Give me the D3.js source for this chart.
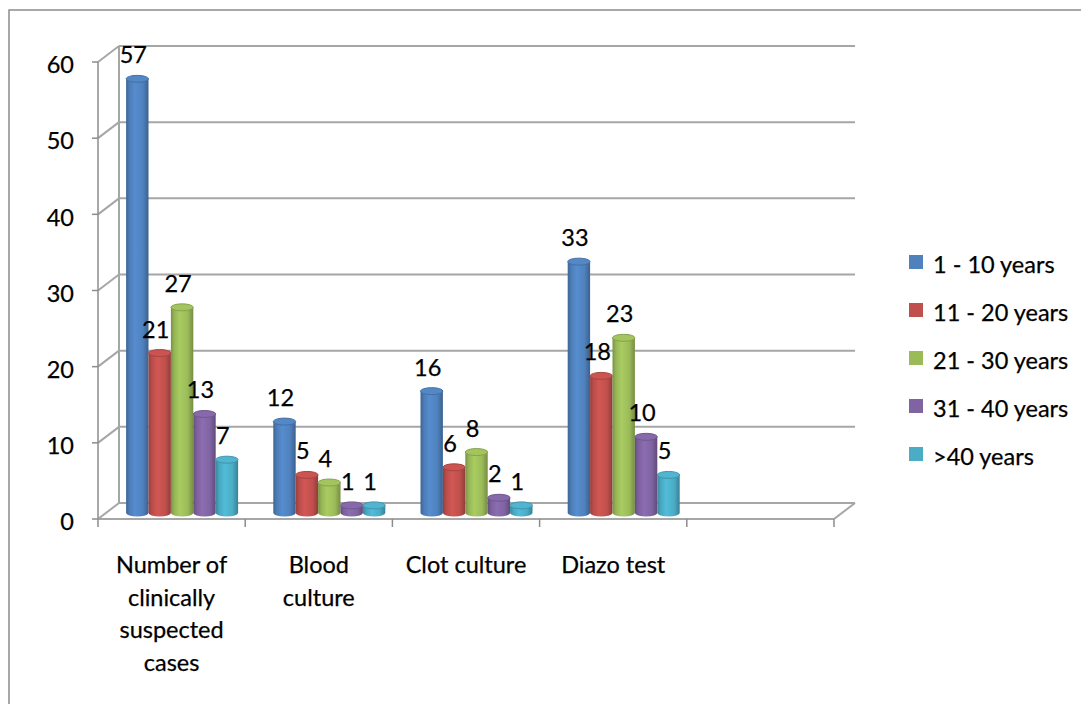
<!DOCTYPE html>
<html>
<head>
<meta charset="utf-8">
<script src="https://cdn.jsdelivr.net/npm/d3@7"></script>
<style>
  html, body { margin: 0; padding: 0; background: #fff; }
  svg { display: block; }
  text { font-family: Lato, "Open Sans", sans-serif; fill: #000; stroke: #000; stroke-width: 0.25px; }
</style>
</head>
<body>
<svg id="chart" width="1081" height="704"></svg>
<script>
// ---- Data ----
const categories = ["Number of\nclinically\nsuspected\ncases", "Blood\nculture", "Clot culture", "Diazo test", ""];
const seriesNames = ["1 - 10 years", "11 - 20 years", "21 - 30 years", "31 - 40 years", ">40 years"];
const age1to10   = [57, 12, 16, 33, null];
const age11to20  = [21, 5, 6, 18, null];
const age21to30  = [27, 4, 8, 23, null];
const age31to40  = [13, 1, 2, 10, null];
const ageOver40  = [7, 1, 1, 5, null];
const yTicks = [0, 10, 20, 30, 40, 50, 60];
const colors = ["#4F81BD", "#C0504D", "#9BBB59", "#8064A2", "#4BACC6"];

const seriesValues = [age1to10, age11to20, age21to30, age31to40, ageOver40];

// ---- Layout ----
const svg = d3.select("#chart");
const x0 = 98, x1 = 834, yBase = 519, yTop = 62;
const dx = 21, dy = -16;          // depth offset of back wall
const FONT = 23.5;

const x = d3.scaleBand().domain(d3.range(categories.length)).range([x0, x1]).padding(0);
const y = d3.scaleLinear().domain([0, 60]).range([yBase, yTop]);
const xs = d3.scaleBand().domain(d3.range(seriesNames.length)).range([-56, 56]).padding(0);

// outer border
svg.append("path").attr("d", "M9,704 L9,10 L1081,10")
  .attr("fill", "none").attr("stroke", "#8c8c8c").attr("stroke-width", 1.5);

const grid = svg.append("g").attr("fill", "none").attr("stroke", "#a6a6a6").attr("stroke-width", 2);

// back wall gridlines + left wall diagonals
yTicks.forEach(t => {
  grid.append("line").attr("x1", x0 + dx).attr("x2", x1 + dx)
    .attr("y1", y(t) + dy).attr("y2", y(t) + dy);
  grid.append("line").attr("x1", x0).attr("y1", y(t)).attr("x2", x0 + dx).attr("y2", y(t) + dy);
});
// back wall left edge
grid.append("line").attr("x1", x0 + dx).attr("x2", x0 + dx).attr("y1", y(0) + dy).attr("y2", y(60) + dy);
// floor front edge & right diagonal
grid.append("line").attr("x1", x0).attr("x2", x1).attr("y1", y(0)).attr("y2", y(0));
grid.append("line").attr("x1", x1).attr("y1", y(0)).attr("x2", x1 + dx).attr("y2", y(0) + dy);

// front vertical axis
const axisG = svg.append("g").attr("stroke", "#8c8c8c").attr("stroke-width", 1.5).attr("fill", "none");
axisG.append("line").attr("x1", x0).attr("x2", x0).attr("y1", y(0)).attr("y2", y(60));
yTicks.forEach(t => {
  axisG.append("line").attr("x1", x0 - 6).attr("x2", x0).attr("y1", y(t)).attr("y2", y(t));
});
// category ticks
d3.range(categories.length + 1).forEach(i => {
  const xx = i < categories.length ? x(i) : x1;
  axisG.append("line").attr("x1", xx).attr("x2", xx).attr("y1", y(0)).attr("y2", y(0) + 8);
});

// y tick labels
svg.append("g").selectAll("text").data(yTicks).join("text")
  .attr("x", 74).attr("y", d => y(d) + 3).attr("dy", "0.35em")
  .attr("text-anchor", "end").attr("font-size", FONT).text(d => d);

// category labels
const catG = svg.append("g");
categories.forEach((c, i) => {
  if (!c) return;
  const t = catG.append("text").attr("text-anchor", "middle").attr("font-size", FONT);
  c.split("\n").forEach((line, j) => {
    t.append("tspan").attr("x", x(i) + x.bandwidth() / 2).attr("y", 573 + j * 32.7).text(line);
  });
});

// gradients for cylinders
const defs = svg.append("defs");
colors.forEach((c, i) => {
  const g = defs.append("linearGradient").attr("id", "cyl" + i).attr("x1", 0).attr("x2", 1).attr("y1", 0).attr("y2", 0);
  const base = d3.color(c);
  g.append("stop").attr("offset", "0%").attr("stop-color", base.darker(0.7));
  g.append("stop").attr("offset", "15%").attr("stop-color", base.darker(0.1));
  g.append("stop").attr("offset", "40%").attr("stop-color", base.brighter(0.25));
  g.append("stop").attr("offset", "75%").attr("stop-color", base);
  g.append("stop").attr("offset", "100%").attr("stop-color", base.darker(0.8));
});

// bars
const barW = xs.bandwidth();
const rx = barW / 2, ry = 3.5;
const midDy = -6, midDx = dx / 2;
const barsG = svg.append("g");
const labelsG = svg.append("g");
categories.forEach((c, ci) => {
  seriesValues.forEach((vals, si) => {
    const v = vals[ci];
    if (v == null) return;
    const cx = x(ci) + x.bandwidth() / 2 + midDx + xs(si) + barW / 2;
    const yt = y(v) + midDy, yb = y(0) + midDy;
    const base = d3.color(colors[si]);
    const g = barsG.append("g");
    g.append("path")
      .attr("d", `M${cx - rx},${yt} L${cx - rx},${yb} A${rx},${ry} 0 0 0 ${cx + rx},${yb} L${cx + rx},${yt} Z`)
      .attr("fill", `url(#cyl${si})`);
    g.append("ellipse").attr("cx", cx).attr("cy", yt).attr("rx", rx).attr("ry", ry)
      .attr("fill", base.brighter(0.15)).attr("stroke", base.darker(0.4)).attr("stroke-width", 1);
    labelsG.append("text").attr("x", cx - 4).attr("y", yt - ry - 12)
      .attr("text-anchor", "middle").attr("font-size", FONT).text(v);
  });
});

// legend
const legG = svg.append("g");
seriesNames.forEach((s, i) => {
  const by = 273 + i * 48;
  legG.append("rect").attr("x", 909).attr("y", by - 18).attr("width", 14).attr("height", 14).attr("fill", colors[i]);
  legG.append("text").attr("x", 933).attr("y", by).attr("font-size", FONT).text(s);
});
</script>
</body>
</html>
